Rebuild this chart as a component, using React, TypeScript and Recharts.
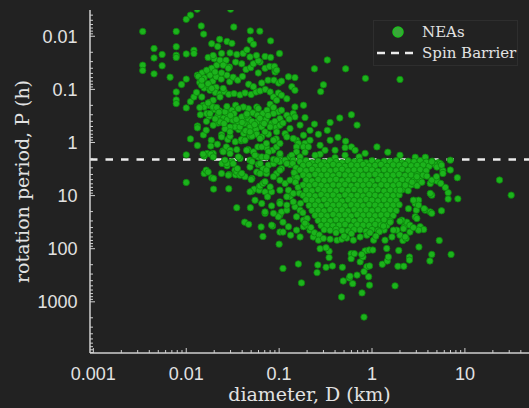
import React from 'react';
import { ScatterChart, Scatter, XAxis, YAxis, ReferenceLine } from 'recharts';

// [diameter (km), rotation period (h)]

// fast rotators, small bodies above / around the barrier
const fastRotators: [number, number][] = [
  [0.0034, 0.0081], [0.0045, 0.017], [0.0055, 0.022], [0.0045, 0.0256], [0.0034, 0.035], [0.0034, 0.044],
  [0.0055, 0.036], [0.0045, 0.051], [0.0067, 0.059], [0.0078, 0.0081], [0.0078, 0.0157], [0.0078, 0.0228],
  [0.0078, 0.025], [0.0078, 0.112], [0.0078, 0.158], [0.0078, 0.185], [0.0089, 0.081], [0.01, 0.064],
  [0.0111, 0.17], [0.0121, 0.139], [0.01, 0.223], [0.0131, 0.0031], [0.0111, 0.004], [0.01, 0.0048],
  [0.0145, 0.0064], [0.0154, 0.0091], [0.01, 0.0215], [0.0121, 0.0183], [0.0121, 0.0211], [0.0188, 0.0138],
  [0.0229, 0.0114], [0.0275, 0.0125], [0.0218, 0.0156], [0.031, 0.0136], [0.03, 0.0031], [0.0325, 0.0067],
  [0.049, 0.0079], [0.062, 0.008], [0.049, 0.0119], [0.053, 0.0141], [0.081, 0.0122], [0.101, 0.0211],
  [0.33, 0.028], [0.52, 0.041], [0.24, 0.041], [0.3, 0.082], [0.28, 0.11], [0.45, 0.345], [0.6, 0.3],
  [0.69, 0.47], [0.24, 0.45], [0.33, 0.59], [0.265, 0.7], [0.43, 0.8], [0.52, 0.95], [0.6, 1.21],
  [0.0132, 0.49], [0.0132, 0.53], [0.0111, 0.855], [0.0132, 1.14], [0.01, 1.71], [0.85, 0.062], [2.0, 0.065],
  [1.13, 1.21], [1.48, 1.52], [0.726, 1.87],
  [0.0153, 0.72], [0.0164, 0.588], [0.0176, 0.32], [0.0153, 0.199], [0.0176, 0.199], [0.0199, 0.24],
  [0.0229, 0.254], [0.0275, 0.247], [0.0274, 0.285], [0.022, 0.43], [0.025, 0.35], [0.024, 0.71],
  [0.028, 0.88], [0.0296, 0.76], [0.0337, 0.97], [0.039, 0.93], [0.0367, 0.57], [0.035, 0.45],
  [0.0416, 0.68], [0.0486, 0.76], [0.057, 0.68], [0.053, 0.57], [0.047, 0.45], [0.0429, 0.34],
  [0.0545, 0.285], [0.0574, 0.215], [0.0467, 0.23], [0.0412, 0.215], [0.034, 0.199], [0.031, 0.247],
  [0.0261, 0.265], [0.0186, 0.907], [0.0184, 1.17], [0.0216, 1.08], [0.0168, 1.61], [0.0195, 1.61],
  [0.0248, 1.44], [0.027, 1.21], [0.0296, 1.4], [0.035, 1.36], [0.0379, 2.0], [0.0464, 1.36],
  [0.0528, 1.5], [0.059, 1.21], [0.0596, 1.87],
  [0.0132, 0.054], [0.0148, 0.049], [0.0156, 0.061], [0.0171, 0.046], [0.018, 0.054], [0.0193, 0.07],
  [0.014, 0.074], [0.0156, 0.094], [0.0146, 0.084], [0.0176, 0.089], [0.018, 0.104], [0.021, 0.092],
  [0.0206, 0.114], [0.0231, 0.122], [0.0257, 0.11], [0.0287, 0.124], [0.0327, 0.12], [0.0379, 0.127],
  [0.0429, 0.117], [0.05, 0.125], [0.0564, 0.112], [0.0623, 0.107], [0.071, 0.1], [0.08, 0.112],
  [0.087, 0.139], [0.098, 0.117], [0.021, 0.058], [0.0238, 0.064], [0.0274, 0.054], [0.0294, 0.072],
  [0.032, 0.059], [0.0358, 0.067], [0.0403, 0.057], [0.044, 0.042], [0.0494, 0.039], [0.0596, 0.049],
  [0.0705, 0.04], [0.079, 0.037], [0.0904, 0.0436], [0.0213, 0.035], [0.0254, 0.034], [0.0291, 0.038],
  [0.034, 0.0306], [0.0396, 0.033], [0.0528, 0.033], [0.0623, 0.0306], [0.047, 0.08], [0.0528, 0.089],
  [0.065, 0.076], [0.076, 0.067], [0.088, 0.067], [0.099, 0.076], [0.018, 0.175], [0.0156, 0.214],
  [0.0166, 0.285], [0.0277, 0.37], [0.0327, 0.285], [0.036, 0.41], [0.0335, 0.51], [0.0396, 0.33],
  [0.042, 0.44], [0.047, 0.36], [0.052, 0.277], [0.0584, 0.307], [0.067, 0.285], [0.074, 0.247],
  [0.08, 0.19], [0.087, 0.22], [0.094, 0.16], [0.098, 0.265], [0.0723, 0.37], [0.083, 0.44],
  [0.093, 0.52], [0.063, 0.44], [0.0564, 0.57], [0.0486, 0.51], [0.0437, 0.6], [0.0574, 0.7],
  [0.065, 0.785], [0.0767, 0.7], [0.093, 0.855], [0.0855, 1.4], [0.094, 1.21], [0.073, 1.24],
  [0.051, 0.76], [0.0393, 0.88], [0.0318, 0.381], [0.0296, 0.51], [0.0261, 0.555], [0.024, 0.41],
  [0.0218, 0.33], [0.0193, 0.214], [0.0147, 0.139], [0.0129, 0.114],
  [0.0172, 0.025], [0.02, 0.0265], [0.0231, 0.0283], [0.0268, 0.0283], [0.025, 0.035], [0.0284, 0.04],
  [0.0188, 0.04], [0.0166, 0.0436], [0.0204, 0.047], [0.024, 0.049], [0.0135, 0.057], [0.0147, 0.067],
  [0.0172, 0.078], [0.0188, 0.096], [0.025, 0.096], [0.0231, 0.139], [0.0195, 0.16], [0.0172, 0.18],
  [0.014, 0.22], [0.0213, 0.22], [0.0274, 0.21],
  [0.106, 0.129], [0.121, 0.15], [0.148, 0.214], [0.183, 0.199], [0.102, 0.355], [0.106, 0.247],
  [0.121, 0.307], [0.142, 0.285], [0.148, 0.33], [0.094, 0.63], [0.102, 0.473], [0.116, 0.68],
  [0.131, 0.545], [0.154, 0.907], [0.161, 1.04], [0.183, 0.73], [0.19, 1.04], [0.087, 0.907],
  [0.102, 1.04], [0.121, 0.785], [0.142, 0.84], [0.154, 1.21], [0.183, 1.21], [0.206, 1.21],
  [0.0195, 0.473], [0.0231, 0.41], [0.0296, 0.63], [0.0379, 0.51], [0.0486, 0.63], [0.0574, 0.41],
  [0.065, 0.51], [0.0705, 0.63], [0.08, 0.51], [0.024, 0.785], [0.0429, 0.907], [0.0623, 0.84],
  [0.065, 1.21], [0.073, 1.04], [0.018, 0.285], [0.022, 0.307], [0.0364, 0.23], [0.0447, 0.307],
  [0.0596, 0.23], [0.087, 0.285], [0.148, 0.06], [0.126, 0.058], [0.106, 0.07], [0.0904, 0.047],
  [0.137, 0.089], [0.148, 0.104], [0.089, 0.037], [0.094, 0.0436], [0.0596, 0.029],
  [0.0195, 0.023], [0.024, 0.021], [0.0296, 0.0206], [0.035, 0.022], [0.041, 0.021], [0.045, 0.018],
  [0.0486, 0.0245], [0.057, 0.023], [0.0705, 0.024], [0.081, 0.025],
  [0.215, 0.907], [0.276, 1.13], [0.354, 0.907], [0.312, 1.4], [0.354, 0.42], [0.215, 0.59],
  [0.168, 0.47], [0.19, 0.34],
  [0.0142, 0.3], [0.0165, 0.4], [0.0205, 0.36], [0.0255, 0.44], [0.03, 0.31], [0.0345, 0.37],
  [0.04, 0.42], [0.045, 0.29], [0.051, 0.4], [0.062, 0.35], [0.069, 0.44], [0.076, 0.31],
  [0.09, 0.4], [0.11, 0.43], [0.128, 0.36], [0.0225, 0.27], [0.0545, 0.46],
];

// small bodies just under the barrier, left of the main clump
const transitionZone: [number, number][] = [
  [0.01, 5.66], [0.0197, 7.55], [0.0287, 7.45], [0.0156, 3.83], [0.0164, 3.32], [0.0188, 4.63],
  [0.0197, 4.77], [0.024, 3.83], [0.0289, 4.0], [0.034, 4.07], [0.051, 8.25], [0.054, 7.55],
  [0.061, 6.85], [0.0243, 2.48], [0.0275, 2.75], [0.031, 2.3], [0.0335, 3.32], [0.0486, 2.15],
  [0.0274, 2.48], [0.0284, 4.12], [0.035, 3.6], [0.0379, 4.12], [0.0429, 4.4], [0.0355, 3.1],
  [0.0486, 2.9], [0.0574, 3.6], [0.051, 4.77], [0.0172, 3.6], [0.035, 16.9], [0.0486, 8.5],
  [0.055, 12.2], [0.061, 7.9], [0.0184, 1.66], [0.0156, 1.8], [0.0396, 3.83], [0.05, 4.98],
  [0.0623, 6.6], [0.067, 5.9], [0.0705, 5.5], [0.049, 16.9], [0.0426, 31.6], [0.047, 34.8],
  [0.064, 38.9], [0.067, 58.8], [0.085, 37.4], [0.0705, 21.6], [0.065, 14.1], [0.083, 15.6],
  [0.0705, 8.5], [0.075, 10.5], [0.083, 8.5], [0.1, 82], [0.102, 23.3], [0.11, 31.6], [0.102, 48.6],
  [0.126, 38.5], [0.133, 55.5], [0.0261, 2.15], [0.032, 2.5], [0.051, 2.3], [0.0596, 2.6],
  [0.067, 3.1], [0.0623, 3.83], [0.073, 3.83], [0.0767, 2.67], [0.087, 2.5], [0.094, 3.83],
  [0.102, 2.3], [0.106, 3.1], [0.102, 5.12], [0.131, 2.6], [0.116, 5.9], [0.126, 7.9], [0.131, 10.5],
  [0.102, 13.1], [0.106, 20.3], [0.121, 18.8], [0.148, 4.4], [0.142, 9.1], [0.148, 16.3], [0.154, 25],
  [0.154, 44.7], [0.183, 38.5], [0.168, 60],
  [0.0152, 1.66], [0.0195, 1.87], [0.025, 1.5], [0.0296, 1.62], [0.0364, 1.87], [0.0447, 1.4],
  [0.055, 1.74], [0.065, 1.87], [0.0767, 1.5], [0.087, 2.08], [0.102, 1.74], [0.131, 1.87],
  [0.154, 1.5], [0.168, 1.87], [0.0623, 2.5], [0.073, 1.87], [0.102, 1.62], [0.116, 2.15],
  [0.137, 1.74], [0.19, 1.52], [0.276, 1.66], [0.4, 1.4], [0.513, 1.74], [0.843, 1.6], [2.0, 1.74],
  [2.92, 1.9], [3.75, 1.9], [0.244, 1.74], [0.4, 1.93], [0.513, 1.25], [0.658, 1.4],
  [0.102, 14.1], [0.121, 15.1], [0.142, 13.1], [0.098, 25], [0.168, 18.8], [0.121, 10.5],
  [0.102, 7.9], [0.08, 6.85], [0.087, 4.4], [0.102, 3.32], [0.073, 3.32], [0.121, 2.5], [0.094, 2.15],
  [0.142, 2.15], [0.148, 3.83], [0.131, 5.12], [0.11, 48.6], [0.083, 36], [0.087, 21.6], [0.0705, 20.3],
  [0.215, 44.7], [0.233, 60], [0.198, 36], [0.183, 29],
  [0.14, 2.5], [0.152, 3.0], [0.145, 3.7], [0.156, 4.6], [0.15, 5.6], [0.16, 7.0], [0.165, 9.0],
  [0.17, 14], [0.18, 21], [0.2, 27], [0.19, 33], [0.22, 40], [0.24, 50], [0.27, 55],
];

// the crowded clump of km-sized bodies below the barrier
const mainCluster: [number, number][] = [
  [0.168, 2.3], [0.195, 2.2], [0.226, 2.4], [0.263, 2.25], [0.305, 2.35], [0.354, 2.2], [0.41, 2.3],
  [0.476, 2.4], [0.553, 2.2], [0.642, 2.3], [0.745, 2.25], [0.864, 2.4], [1.0, 2.2], [1.16, 2.35],
  [1.35, 2.25], [1.57, 2.3], [1.82, 2.2], [2.11, 2.4], [2.45, 2.25], [2.84, 2.3], [3.3, 2.2],
  [3.83, 2.35], [4.44, 2.25], [5.16, 2.4],
  [0.181, 2.7], [0.21, 2.6], [0.244, 2.8], [0.283, 2.65], [0.328, 2.75], [0.381, 2.6], [0.442, 2.7],
  [0.513, 2.8], [0.596, 2.65], [0.691, 2.7], [0.802, 2.6], [0.931, 2.75], [1.08, 2.7], [1.25, 2.6],
  [1.45, 2.8], [1.69, 2.65], [1.96, 2.7], [2.27, 2.6], [2.64, 2.75], [3.06, 2.7], [3.55, 2.65],
  [4.12, 2.8], [4.79, 2.6],
  [0.168, 3.3], [0.195, 3.4], [0.226, 3.2], [0.263, 3.35], [0.305, 3.25], [0.354, 3.4], [0.41, 3.3],
  [0.476, 3.2], [0.553, 3.4], [0.642, 3.3], [0.745, 3.35], [0.864, 3.2], [1.0, 3.3], [1.16, 3.45],
  [1.35, 3.25], [1.57, 3.3], [1.82, 3.4], [2.11, 3.2], [2.45, 3.35], [2.84, 3.3], [3.3, 3.25], [3.83, 3.4],
  [0.181, 4.1], [0.21, 4.2], [0.244, 4.0], [0.283, 4.15], [0.328, 4.1], [0.381, 4.25], [0.442, 4.0],
  [0.513, 4.1], [0.596, 4.2], [0.691, 4.05], [0.802, 4.15], [0.931, 4.1], [1.08, 4.0], [1.25, 4.2],
  [1.45, 4.1], [1.69, 4.15], [1.96, 4.0], [2.27, 4.2], [2.64, 4.1], [3.06, 4.05], [3.55, 4.15],
  [0.195, 5.1], [0.226, 5.3], [0.263, 5.0], [0.305, 5.2], [0.354, 5.1], [0.41, 4.95], [0.476, 5.25],
  [0.553, 5.1], [0.642, 5.0], [0.745, 5.2], [0.864, 5.1], [1.0, 5.3], [1.16, 5.0], [1.35, 5.15],
  [1.57, 5.1], [1.82, 5.25], [2.11, 5.0], [2.45, 5.15], [2.84, 5.1], [3.3, 5.2],
  [0.181, 6.3], [0.21, 6.5], [0.244, 6.2], [0.283, 6.4], [0.328, 6.6], [0.381, 6.3], [0.442, 6.4],
  [0.513, 6.2], [0.596, 6.5], [0.691, 6.35], [0.802, 6.4], [0.931, 6.2], [1.08, 6.6], [1.25, 6.3],
  [1.45, 6.4], [1.69, 6.5], [1.96, 6.2], [2.27, 6.4], [2.64, 6.3], [3.06, 6.5],
  [0.195, 7.9], [0.226, 8.1], [0.263, 7.7], [0.305, 8.0], [0.354, 7.9], [0.41, 8.2], [0.476, 7.8],
  [0.553, 8.0], [0.642, 7.7], [0.745, 8.1], [0.864, 7.9], [1.0, 8.0], [1.16, 7.8], [1.35, 8.2],
  [1.57, 7.9], [1.82, 8.0], [2.11, 7.8], [2.45, 8.1],
  [0.181, 9.9], [0.21, 9.8], [0.244, 10.2], [0.283, 9.6], [0.328, 10.0], [0.381, 9.8], [0.442, 10.3],
  [0.513, 9.7], [0.596, 10.0], [0.691, 9.9], [0.802, 10.2], [0.931, 9.6], [1.08, 9.9], [1.25, 10.1],
  [1.45, 9.8], [1.69, 10.0], [1.96, 9.7],
  [0.195, 12.0], [0.226, 12.2], [0.263, 12.6], [0.305, 11.9], [0.354, 12.4], [0.41, 12.1], [0.476, 12.7],
  [0.553, 12.0], [0.642, 12.3], [0.745, 12.5], [0.864, 11.9], [1.0, 12.2], [1.16, 12.6], [1.35, 12.0],
  [1.57, 12.3], [1.82, 12.4],
  [0.21, 15.3], [0.244, 15.1], [0.283, 15.6], [0.328, 14.8], [0.381, 15.3], [0.442, 15.0], [0.513, 15.7],
  [0.596, 14.9], [0.691, 15.2], [0.802, 15.5], [0.931, 14.8], [1.08, 15.2], [1.25, 15.4], [1.45, 15.0],
  [1.69, 15.2], [1.96, 14.9],
  [0.226, 19.0], [0.263, 18.8], [0.305, 19.4], [0.354, 18.4], [0.41, 19.0], [0.476, 18.6], [0.553, 19.5],
  [0.642, 18.5], [0.745, 19.1], [0.864, 18.7], [1.0, 19.3], [1.16, 18.5], [1.35, 19.0], [1.57, 18.6],
  [1.82, 19.2],
  [0.244, 23.5], [0.283, 23.3], [0.328, 24.0], [0.381, 22.8], [0.442, 23.6], [0.513, 23.0], [0.596, 24.2],
  [0.691, 22.9], [0.802, 23.5], [0.931, 23.1], [1.08, 24.0], [1.25, 23.2], [1.45, 23.0], [1.69, 23.8],
  [0.263, 29.5], [0.305, 29], [0.354, 30], [0.41, 28.5], [0.476, 29.5], [0.553, 28.8], [0.642, 30.2],
  [0.745, 28.6], [0.864, 29.4], [1.0, 29.0], [1.16, 30.0], [1.35, 28.7], [1.57, 29.6],
  [0.283, 36.5], [0.328, 36], [0.381, 37], [0.442, 36], [0.513, 35], [0.596, 37.5], [0.691, 35.5],
  [0.802, 36.2], [0.931, 36.5], [1.08, 35], [1.25, 35.8], [1.45, 36.4],
  [0.305, 44], [0.354, 45], [0.41, 43], [0.476, 45.5], [0.553, 46], [0.642, 43.8], [0.745, 44],
  [0.864, 47], [1.0, 43.5], [1.16, 45], [1.35, 44.5],
];

// slow rotators, the tail below the clump
const slowRotators: [number, number][] = [
  [0.11, 235], [0.161, 194], [0.174, 440], [0.261, 202], [0.256, 282], [0.32, 224], [0.375, 211],
  [0.48, 224], [0.47, 813], [0.345, 147], [0.345, 112], [0.276, 100], [0.32, 96], [0.49, 405],
  [0.57, 355], [0.62, 455], [0.69, 314], [0.78, 680], [0.82, 1940], [0.596, 124], [0.596, 154],
  [0.645, 124], [0.745, 177], [0.843, 110], [0.93, 106], [0.88, 219], [0.92, 337],
  [0.265, 69], [0.3, 64], [0.354, 66], [0.42, 69], [0.47, 66], [0.535, 63], [0.63, 69], [0.745, 60],
  [0.88, 55.5], [0.94, 485], [1.77, 500], [0.82, 270], [0.94, 211], [1.29, 196], [1.9, 214],
  [2.2, 214], [2.53, 143], [2.53, 164], [1.46, 170], [1.94, 108], [3.2, 93], [4.2, 170], [4.4, 128],
  [7.1, 128], [5.3, 70], [1.44, 99], [1.5, 143], [1.38, 69], [1.64, 60], [1.02, 106], [0.8, 143],
  [1.04, 69], [2.15, 70], [2.33, 64], [2.0, 55.5], [1.85, 44.7], [2.23, 38.5], [2.37, 31.6], [2.1, 29],
  [2.56, 36], [2.92, 25], [3.3, 38.5], [3.6, 43.5], [3.17, 44.7], [2.56, 48.6], [0.58, 330],
  [0.775, 128], [1.33, 37.5], [1.57, 31.6], [1.7, 44.7], [2.0, 30.4], [2.18, 42], [2.28, 60],
  [2.79, 40], [3.04, 27], [0.41, 50], [0.6, 52], [0.95, 50], [1.2, 48], [1.1, 58], [0.5, 58],
];

// large bodies to the right of the clump
const wideOutliers: [number, number][] = [
  [3.0, 18.8], [2.92, 14.1], [3.17, 12.2], [3.75, 18.8], [4.24, 20.3], [4.4, 9.8], [5.6, 19.3],
  [6.6, 8.8], [6.6, 11.6], [8.4, 11.5], [8.3, 4.6], [5.8, 3.4], [4.24, 5.9], [5.0, 5.3], [6.16, 7.0],
  [6.97, 2.15], [5.44, 2.5], [23.6, 5.1], [31.5, 9.8], [4.4, 21.6], [2.0, 7.9], [2.28, 6.36],
  [2.7, 5.6], [3.04, 4.4], [3.44, 5.6], [3.9, 4.3], [4.4, 5.12], [4.95, 4.4], [5.5, 5.9], [5.8, 3.83],
  [2.79, 12.2], [3.17, 15.1], [2.47, 17.6], [3.64, 17.6], [4.24, 9.1], [4.4, 2.3], [5.0, 2.9],
  [5.6, 2.67], [6.97, 3.3],
];

const spinBarrier = 2.1;

const xMajor = [0.001, 0.01, 0.1, 1, 10];
const yMajor = [0.01, 0.1, 1, 10, 100, 1000];
const xTicks = [
  0.001, 0.002, 0.003, 0.004, 0.005, 0.006, 0.007, 0.008, 0.009,
  0.01, 0.02, 0.03, 0.04, 0.05, 0.06, 0.07, 0.08, 0.09,
  0.1, 0.2, 0.3, 0.4, 0.5, 0.6, 0.7, 0.8, 0.9,
  1, 2, 3, 4, 5, 6, 7, 8, 9, 10, 20, 30, 40,
];
const yTicks = [
  0.004, 0.005, 0.006, 0.007, 0.008, 0.009,
  0.01, 0.02, 0.03, 0.04, 0.05, 0.06, 0.07, 0.08, 0.09,
  0.1, 0.2, 0.3, 0.4, 0.5, 0.6, 0.7, 0.8, 0.9,
  1, 2, 3, 4, 5, 6, 7, 8, 9,
  10, 20, 30, 40, 50, 60, 70, 80, 90,
  100, 200, 300, 400, 500, 600, 700, 800, 900,
  1000, 2000, 3000, 4000, 5000, 6000, 7000, 8000, 9000,
];

const neaPoints = [...fastRotators, ...transitionZone, ...mainCluster, ...slowRotators, ...wideOutliers]
  .map(([d, p]) => ({ d, p }));

const BG = '#222222';
const AXIS = '#cfcfcf';
const TEXT = '#e2e2e2';
const SANS = '"Liberation Sans", Arial, sans-serif';
const SERIF = '"DejaVu Serif", serif';

const XTick = (props: any) => {
  const { x, y, payload } = props;
  const major = xMajor.includes(payload.value);
  return (
    <g>
      <line x1={x} y1={y} x2={x} y2={y - (major ? 5 : 3)} stroke={AXIS} strokeWidth={1} />
      {major && (
        <text x={x} y={y + 27} textAnchor="middle" fill={TEXT} fontSize={18} fontFamily={SANS}>
          {String(payload.value)}
        </text>
      )}
    </g>
  );
};

const YTick = (props: any) => {
  const { x, y, payload } = props;
  const major = yMajor.includes(payload.value);
  return (
    <g>
      <line x1={x} y1={y} x2={x + (major ? 5 : 3)} y2={y} stroke={AXIS} strokeWidth={1} />
      {major && (
        <text x={x - 12.5} y={y} dy="0.36em" textAnchor="end" fill={TEXT} fontSize={18} fontFamily={SANS}>
          {String(payload.value)}
        </text>
      )}
    </g>
  );
};

const renderDot = (props: any) => (
  <circle cx={props.cx} cy={props.cy} r={3.2} fill="#1cb31c" stroke="#0d850d" strokeWidth={0.8} />
);

export default function App() {
  return (
    <div style={{ position: 'absolute', left: 0, top: 0, width: 529, height: 408, background: BG, overflow: 'hidden' }}>
      <ScatterChart width={529} height={408} margin={{ top: 10, right: 0, bottom: 0, left: 0 }}>
        <XAxis
          type="number"
          dataKey="d"
          scale="log"
          domain={[0.00092, 49]}
          allowDataOverflow
          ticks={xTicks}
          interval={0}
          tick={(p: any) => <XTick {...p} />}
          tickLine={false}
          tickSize={0}
          tickMargin={0}
          height={55}
          axisLine={{ stroke: AXIS, strokeWidth: 1.5 }}
          label={{
            content: (p: any) => (
              <text
                x={p.viewBox.x + p.viewBox.width / 2}
                y={p.viewBox.y + p.viewBox.height - 7}
                textAnchor="middle"
                fill={TEXT}
                fontSize={19}
                fontFamily={SERIF}
              >
                diameter, D (km)
              </text>
            ),
          }}
        />
        <YAxis
          type="number"
          dataKey="p"
          scale="log"
          domain={[0.0032, 9200]}
          reversed
          allowDataOverflow
          ticks={yTicks}
          interval={0}
          tick={(p: any) => <YTick {...p} />}
          tickLine={false}
          tickSize={0}
          tickMargin={0}
          width={90}
          axisLine={{ stroke: AXIS, strokeWidth: 1.5 }}
          label={{
            content: (p: any) => {
              const cx = p.viewBox.x + 22;
              const cy = p.viewBox.y + p.viewBox.height / 2;
              return (
                <text
                  x={cx}
                  y={cy}
                  dy="0.35em"
                  transform={`rotate(-90, ${cx}, ${cy})`}
                  textAnchor="middle"
                  fill={TEXT}
                  fontSize={19}
                  fontFamily={SERIF}
                >
                  rotation period, P (h)
                </text>
              );
            },
          }}
        />
        <Scatter data={neaPoints} isAnimationActive={false} shape={renderDot} />
        <ReferenceLine y={spinBarrier} stroke="#ebebeb" strokeWidth={2.5} strokeDasharray="7.5 8" />
      </ScatterChart>

      <div
        style={{
          position: 'absolute',
          left: 373,
          top: 20,
          width: 145,
          height: 46,
          border: '1px solid #2e2e2e',
          boxSizing: 'border-box',
          background: BG,
        }}
      >
        <svg width={145} height={46} style={{ position: 'absolute', left: -1, top: -1 }}>
          <circle cx={25} cy={12} r={5} fill="#3aa53a" stroke="#1fbf1f" strokeWidth={1.5} />
          <line x1={4} y1={33} x2={44} y2={33} stroke="#ebebeb" strokeWidth={2.5} strokeDasharray="8 6" />
          <text x={49} y={12} dy="0.35em" fill={TEXT} fontSize={15} fontFamily={SERIF}>NEAs</text>
          <text x={49} y={33} dy="0.35em" fill={TEXT} fontSize={15} fontFamily={SERIF}>Spin Barrier</text>
        </svg>
      </div>
    </div>
  );
}
